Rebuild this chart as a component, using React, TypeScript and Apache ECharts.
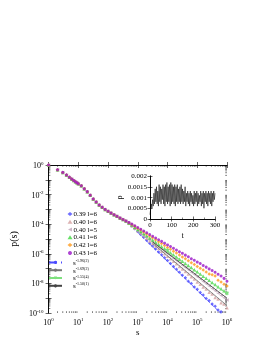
import React, { useEffect, useRef } from 'react';
import * as echarts from 'echarts';

// log10(s) and log10(p(s)) of the common (overlapping) head of all curves
const headLogS = [0, 0.301, 0.477, 0.602, 0.699, 0.778, 0.845, 0.903, 0.954, 1.0, 1.1, 1.2, 1.3, 1.4, 1.5, 1.6, 1.7, 1.8, 1.9, 2.0, 2.1, 2.2, 2.3, 2.4, 2.5, 2.6];
const headLogP = [0, -0.32, -0.5, -0.68, -0.83, -0.95, -1.05, -1.13, -1.2, -1.27, -1.4, -1.6, -1.8, -2.05, -2.3, -2.5, -2.7, -2.85, -3.0, -3.12, -3.25, -3.36, -3.47, -3.58, -3.68, -3.78];

// log10(s) of the tails where the curves separate
const tailLogS = [2.7, 2.8, 2.9, 3.0, 3.1, 3.2, 3.3, 3.4, 3.5, 3.6, 3.7, 3.8, 3.9, 4.0, 4.1, 4.2, 4.3, 4.4, 4.5, 4.6, 4.7, 4.8, 4.9, 5.0, 5.1, 5.2, 5.3, 5.4, 5.5, 5.6, 5.7, 5.8, 5.9, 6.0];
const tail039l6 = [-3.95, -4.12, -4.3, -4.5, -4.69, -4.89, -5.09, -5.28, -5.48, -5.68, -5.87, -6.07, -6.27, -6.46, -6.66, -6.85, -7.05, -7.25, -7.45, -7.62, -7.85, -8.0, -8.25, -8.4, -8.62, -8.78, -9.02, -9.15, -9.4, -9.55, -9.8, -9.92, -10.2, -10.4];
const tail040l6 = [-3.93, -4.1, -4.27, -4.44, -4.61, -4.79, -4.96, -5.13, -5.3, -5.48, -5.65, -5.82, -5.99, -6.17, -6.34, -6.51, -6.68, -6.86, -7.03, -7.2, -7.37, -7.55, -7.7, -7.9, -8.05, -8.25, -8.38, -8.6, -8.72, -8.95, -9.05, -9.3, -9.4, -9.65];
const tail040l5 = [-3.93, -4.09, -4.25, -4.41, -4.56, -4.72, -4.88, -5.04, -5.2, -5.35, -5.51, -5.67, -5.83, -5.98, -6.14, -6.3, -6.45, -6.61, -6.77, -6.93, -7.08, -7.24, -7.4, -7.55, -7.71, -7.87, -8.03, -8.18, -8.34, -8.5, -8.66, -8.81, -8.97, -9.12];
const tail041l6 = [-3.92, -4.06, -4.2, -4.35, -4.49, -4.64, -4.78, -4.93, -5.07, -5.21, -5.36, -5.5, -5.64, -5.79, -5.93, -6.07, -6.22, -6.36, -6.5, -6.65, -6.79, -6.93, -7.08, -7.22, -7.36, -7.51, -7.65, -7.79, -7.94, -8.08, -8.22, -8.36, -8.5, -8.64];
const tail042l6 = [-3.9, -4.02, -4.14, -4.27, -4.4, -4.53, -4.66, -4.79, -4.92, -5.05, -5.18, -5.31, -5.44, -5.57, -5.7, -5.83, -5.95, -6.08, -6.21, -6.34, -6.47, -6.6, -6.72, -6.85, -6.97, -7.1, -7.23, -7.36, -7.42, -7.5, -7.78, -7.9, -8.05, -8.18];
const tail043l6 = [-3.88, -3.99, -4.1, -4.22, -4.34, -4.46, -4.58, -4.7, -4.82, -4.93, -5.05, -5.16, -5.28, -5.4, -5.51, -5.63, -5.74, -5.86, -5.97, -6.09, -6.2, -6.33, -6.44, -6.56, -6.66, -6.79, -6.9, -7.02, -7.13, -7.25, -7.38, -7.5, -7.66, -7.85];

// power-law fit lines: [log s, log p] end points
const fit196 = [[3.0, -4.55], [6.0, -10.43]];
const fit169 = [[3.5, -5.3], [6.0, -9.5]];
const fit155 = [[4.0, -5.79], [6.0, -8.7]];
const fit150 = [[3.5, -5.2], [6.0, -9.0]];

// inset: rho(t), sampled every 3 time units from t = 0
const tStep = 3;
const rhoValues = [
  0.0002, 0.00045, 0.0007, 0.0005, 0.0009, 0.0006,
  0.0012, 0.0007, 0.0014, 0.0008, 0.0015, 0.0007, 0.0013, 0.0006, 0.0016, 0.0008,
  0.0015, 0.0007, 0.0014, 0.0009, 0.0016, 0.0007, 0.0015, 0.0006, 0.0016, 0.0008,
  0.0017, 0.0007, 0.0015, 0.0008, 0.0016, 0.0006, 0.0017, 0.0007, 0.0016, 0.0008,
  0.0015, 0.0007, 0.0016, 0.0006, 0.0015, 0.0008, 0.0016, 0.0007, 0.0014, 0.0008,
  0.0015, 0.0007, 0.0016, 0.0008, 0.0014, 0.0007, 0.0013, 0.0008, 0.0015, 0.0006,
  0.0012, 0.0008, 0.0013, 0.0007, 0.0012, 0.0006, 0.0013, 0.0008, 0.0012, 0.0007,
  0.0011, 0.0006, 0.0013, 0.0007, 0.0012, 0.0008, 0.0013, 0.0006, 0.0012, 0.0007,
  0.0011, 0.0008, 0.0013, 0.0006, 0.0012, 0.0007, 0.0013, 0.0005, 0.0012, 0.0008,
  0.0013, 0.0007, 0.0012, 0.0006, 0.0013, 0.0008, 0.0012, 0.0007, 0.0013, 0.0006,
  0.0012, 0.0008, 0.0013, 0.0009, 0.0012
];

const FONT = '"Liberation Serif", "DejaVu Serif", serif';

const curveDefs = [
  { name: '0.39 l=6', color: '#4b4bff', symbol: 'diamond', size: 3.5, tail: tail039l6 },
  { name: '0.40 l=6', color: '#d4a0a0', symbol: 'triangle', size: 3.5, tail: tail040l6 },
  { name: '0.40 l=5', color: '#bfa3b8', symbol: 'path://M0,5 L10,0 L10,10 Z', size: 3.5, tail: tail040l5 },
  { name: '0.41 l=6', color: '#3fd83f', symbol: 'triangle', size: 3.5, tail: tail041l6 },
  { name: '0.42 l=6', color: '#ff9a1a', symbol: 'diamond', size: 3.5, tail: tail042l6 },
  { name: '0.43 l=6', color: '#9b16c8', symbol: 'circle', size: 3, tail: tail043l6 },
];

const fitDefs = [
  { name: 'f196', label: '-1.96(2)', color: '#4b4bff', type: 'dashed', symbol: 'none', pts: fit196 },
  { name: 'f169', label: '-1.69(2)', color: '#777777', type: 'solid', symbol: 'none', pts: fit169 },
  { name: 'f155', label: '-1.55(4)', color: '#7ee07e', type: 'solid', symbol: 'path://M0,0 L10,0 L5,10 Z', pts: fit155 },
  { name: 'f150', label: '-1.50(1)', color: '#444444', type: 'solid', symbol: 'none', pts: fit150 },
];

export default function App() {
  const ref = useRef<HTMLDivElement>(null);
  useEffect(() => {
    if (!ref.current) return;
    const chart = echarts.init(ref.current, null, { renderer: 'svg' });

    const xMinor: number[][] = [];
    for (let n = 0; n < 6; n++) for (let k = 2; k <= 9; k++) xMinor.push([n + Math.log10(k)]);
    const yMinor: number[][] = [];
    for (let n = -10; n < 0; n++) for (let k = 2; k <= 9; k++) yMinor.push([n + Math.log10(k)]);

    const supRich = {
      b: { fontSize: 8, fontFamily: FONT, color: '#000', lineHeight: 9, verticalAlign: 'bottom' },
      e: { fontSize: 5, fontFamily: FONT, color: '#000', lineHeight: 5, verticalAlign: 'top' },
    };

    const tickStyle = { show: true, inside: true, length: 3, lineStyle: { color: '#000', width: 0.6 } };
    const lineStyle = { lineStyle: { color: '#000', width: 0.8 } };

    const series: any[] = [];
    fitDefs.forEach((f) => {
      series.push({
        name: f.name,
        type: 'line',
        xAxisIndex: 0,
        yAxisIndex: 0,
        data: f.pts,
        symbol: f.symbol,
        symbolSize: 4,
        showSymbol: f.symbol !== 'none',
        itemStyle: { color: f.color },
        lineStyle: { color: f.color, width: 0.9, type: f.type },
        z: 3,
      });
    });
    curveDefs.forEach((c) => {
      const data = headLogS.map((s, i) => [s, headLogP[i]]).concat(tailLogS.map((s, i) => [s, c.tail[i]]));
      series.push({
        name: c.name,
        type: 'scatter',
        xAxisIndex: 0,
        yAxisIndex: 0,
        data,
        symbol: c.symbol,
        symbolSize: c.size,
        itemStyle: { color: c.color },
        z: 2,
      });
    });
    series.push({
      type: 'custom',
      xAxisIndex: 0,
      yAxisIndex: 0,
      silent: true,
      data: xMinor,
      renderItem: (params: any, api: any) => {
        const p = api.coord([api.value(0), 0]);
        const cs = params.coordSys;
        const st = { stroke: '#000', lineWidth: 0.5 };
        return {
          type: 'group',
          children: [
            { type: 'line', shape: { x1: p[0], y1: cs.y + cs.height, x2: p[0], y2: cs.y + cs.height - 1.8 }, style: st },
            { type: 'line', shape: { x1: p[0], y1: cs.y, x2: p[0], y2: cs.y + 1.8 }, style: st },
          ],
        };
      },
      z: 1,
    });
    series.push({
      type: 'custom',
      xAxisIndex: 0,
      yAxisIndex: 0,
      silent: true,
      data: yMinor.map((v) => [0, v[0]]),
      renderItem: (params: any, api: any) => {
        const p = api.coord([0, api.value(1)]);
        const cs = params.coordSys;
        const st = { stroke: '#000', lineWidth: 0.5 };
        return {
          type: 'group',
          children: [
            { type: 'line', shape: { x1: cs.x, y1: p[1], x2: cs.x + 1.8, y2: p[1] }, style: st },
            { type: 'line', shape: { x1: cs.x + cs.width, y1: p[1], x2: cs.x + cs.width - 1.8, y2: p[1] }, style: st },
          ],
        };
      },
      z: 1,
    });
    series.push({
      type: 'line',
      xAxisIndex: 2,
      yAxisIndex: 2,
      data: rhoValues.map((r, i) => [i * tStep, r]),
      showSymbol: false,
      symbol: 'none',
      lineStyle: { color: '#111', width: 0.6 },
      z: 5,
    });

    const option: any = {
      animation: false,
      grid: [
        { left: 47, top: 165, width: 180, height: 148 },
        { left: 150, top: 176, width: 65, height: 43, show: true, backgroundColor: '#fff', borderWidth: 0, z: 4 },
      ],
      xAxis: [
        {
          type: 'value', gridIndex: 0, min: 0, max: 6, interval: 1,
          axisLine: lineStyle, axisTick: tickStyle, splitLine: { show: false },
          axisLabel: { margin: 4, formatter: (v: number) => `{b|10}{e|${v}}`, rich: supRich },
          name: 's', nameLocation: 'middle', nameGap: 14,
          nameTextStyle: { fontFamily: FONT, fontSize: 9, color: '#000' },
        },
        {
          type: 'value', gridIndex: 0, position: 'top', min: 0, max: 6, interval: 1,
          axisLine: lineStyle, axisTick: tickStyle, splitLine: { show: false }, axisLabel: { show: false },
        },
        {
          type: 'value', gridIndex: 1, min: 0, max: 300, interval: 100,
          axisLine: lineStyle, axisTick: { ...tickStyle, length: 2.5 }, splitLine: { show: false },
          minorTick: { show: true, splitNumber: 2, length: 1.5, lineStyle: { color: '#000', width: 0.5 } },
          axisLabel: { margin: 2, fontFamily: FONT, fontSize: 7, color: '#000' },
          name: 't', nameLocation: 'middle', nameGap: 12,
          nameTextStyle: { fontFamily: FONT, fontSize: 8, color: '#000' },
          z: 6,
        },
        {
          type: 'value', gridIndex: 1, position: 'top', min: 0, max: 300, interval: 100,
          axisLine: lineStyle, axisTick: { ...tickStyle, length: 2.5 }, splitLine: { show: false }, axisLabel: { show: false },
          z: 6,
        },
      ],
      yAxis: [
        {
          type: 'value', gridIndex: 0, min: -10, max: 0, interval: 1,
          axisLine: lineStyle, axisTick: tickStyle, splitLine: { show: false },
          axisLabel: {
            margin: 5,
            formatter: (v: number) => (Math.round(v) % 2 === 0 ? `{b|10}{e|${v}}` : ''),
            rich: supRich,
          },
          name: 'p(s)', nameLocation: 'middle', nameGap: 27,
          nameTextStyle: { fontFamily: FONT, fontSize: 10, color: '#000' },
        },
        {
          type: 'value', gridIndex: 0, position: 'right', min: -10, max: 0, interval: 1,
          axisLine: lineStyle, axisTick: tickStyle, splitLine: { show: false }, axisLabel: { show: false },
        },
        {
          type: 'value', gridIndex: 1, min: 0, max: 0.002, interval: 0.0005,
          axisLine: lineStyle, axisTick: { ...tickStyle, length: 2.5 }, splitLine: { show: false },
          axisLabel: { margin: 3, fontFamily: FONT, fontSize: 7, color: '#000' },
          name: 'ρ', nameLocation: 'middle', nameGap: 27,
          nameTextStyle: { fontFamily: FONT, fontSize: 8, color: '#000' },
          z: 6,
        },
        {
          type: 'value', gridIndex: 1, position: 'right', min: 0, max: 0.002, interval: 0.0005,
          axisLine: lineStyle, axisTick: { ...tickStyle, length: 2.5 }, splitLine: { show: false }, axisLabel: { show: false },
          z: 6,
        },
      ],
      legend: [
        {
          data: curveDefs.map((c) => c.name),
          orient: 'vertical',
          left: 67.5,
          top: 210,
          padding: 0,
          itemWidth: 5,
          itemHeight: 4,
          itemGap: 0,
          textStyle: { fontFamily: FONT, fontSize: 7, color: '#000', lineHeight: 7.8, padding: [0, 0, 0, -4] },
        },
        {
          data: fitDefs.map((f) => f.name),
          orient: 'vertical',
          left: 48,
          top: 258.5,
          padding: 0,
          itemWidth: 13,
          itemHeight: 4,
          itemGap: 0,
          formatter: (n: string) => {
            const f = fitDefs.find((d) => d.name === n);
            return `{b|s}{e|${f ? f.label : ''}}`;
          },
          textStyle: {
            padding: [0, 0, 0, 6],
            rich: {
              b: { fontFamily: FONT, fontSize: 7, color: '#000', lineHeight: 7.8, verticalAlign: 'bottom' },
              e: { fontFamily: FONT, fontSize: 4, color: '#000', lineHeight: 4, verticalAlign: 'top' },
            },
          },
        },
      ],
      series,
    };
    chart.setOption(option);
    return () => chart.dispose();
  }, []);
  return <div ref={ref} style={{ position: 'fixed', left: 0, top: 0, width: 274, height: 354 }} />;
}
